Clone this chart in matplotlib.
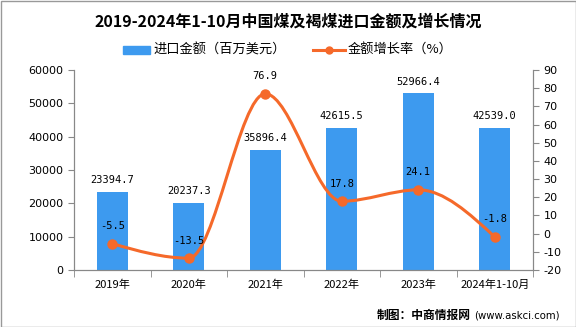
import matplotlib
matplotlib.use('Agg')
import matplotlib.pyplot as plt
from matplotlib.patches import Rectangle, PathPatch
from matplotlib.path import Path

plt.rcParams['font.family'] = ['Noto Sans CJK SC', 'DejaVu Sans']
plt.rcParams['axes.unicode_minus'] = False

# data
years = ['2019年', '2020年', '2021年', '2022年', '2023年', '2024年1-10月']
amount = [23394.7, 20237.3, 35896.4, 42615.5, 52966.4, 42539.0]
growth = [-5.5, -13.5, 76.9, 17.8, 24.1, -1.8]

bar_color = '#3d9aef'
line_color = '#f5692a'
W, H = 576, 327

fig = plt.figure(figsize=(5.76, 3.27), dpi=100)
ax = fig.add_axes([74 / W, 1 - 270 / H, 459 / W, 200 / H])
ax2 = ax.twinx()

x = list(range(len(years)))
ax.bar(x, amount, width=0.41, color=bar_color, zorder=2)
ax.set_xlim(-0.5, len(years) - 0.5)
ax.set_ylim(0, 60000)
ax.set_yticks(range(0, 60001, 10000))
ax.set_xticks(x)
ax.set_xticklabels(years, fontsize=8)
ax.set_xticks([i - 0.5 for i in range(len(years) + 1)], minor=True)

for xi, v in zip(x, amount):
    ax.annotate(f'{v:.1f}', (xi, v), xytext=(0, 5), textcoords='offset points',
                ha='center', va='bottom', fontsize=7.5, family='DejaVu Sans Mono')


# smooth line: monotone cubic tangents (flat at local peaks/dips), drawn as bezier path
def sign(v):
    return (v > 0) - (v < 0)


n = len(growth)
slopes = [(growth[i + 1] - growth[i]) / (x[i + 1] - x[i]) for i in range(n - 1)]
tang = [0.0] * n
for i in range(1, n - 1):
    s0, s1 = slopes[i - 1], slopes[i]
    p = (s0 + s1) / 2
    tang[i] = (sign(s0) + sign(s1)) * min(abs(s0), abs(s1), 0.5 * abs(p))
tang[0] = (3 * slopes[0] - tang[1]) / 2
tang[-1] = (3 * slopes[-1] - tang[-2]) / 2

verts = [(x[0], growth[0])]
codes = [Path.MOVETO]
for i in range(n - 1):
    dx = (x[i + 1] - x[i]) / 3
    verts += [(x[i] + dx, growth[i] + dx * tang[i]),
              (x[i + 1] - dx, growth[i + 1] - dx * tang[i + 1]),
              (x[i + 1], growth[i + 1])]
    codes += [Path.CURVE4] * 3
ax2.add_patch(PathPatch(Path(verts, codes), fill=False, edgecolor=line_color, lw=2.2, zorder=3))
ax2.plot(x, growth, ls='none', color=line_color, marker='o', ms=6.5, zorder=4)
ax2.set_ylim(-20, 90)
ax2.set_yticks(range(-20, 91, 10))
for xi, v in zip(x, growth):
    ax2.annotate(f'{v:.1f}', (xi, v), xytext=(0, 9), textcoords='offset points',
                 ha='center', va='bottom', fontsize=7.5, family='DejaVu Sans Mono')

for a in (ax, ax2):
    a.spines['top'].set_visible(False)
    for s in ('left', 'right', 'bottom'):
        a.spines[s].set_color('#888888')
    a.tick_params(colors='#888888', labelcolor='black', labelsize=8)
ax.tick_params(axis='x', which='major', length=0, pad=7, labelsize=8)
ax.tick_params(axis='x', which='minor', length=5, direction='out', color='#888888')
ax.tick_params(axis='y', direction='out', length=4)
ax2.tick_params(axis='y', direction='out', length=4)
for lbl in ax.get_yticklabels() + ax2.get_yticklabels():
    lbl.set_family('DejaVu Sans')

# title
fig.text(0.5, 1 - 22 / H, '2019-2024年1-10月中国煤及褐煤进口金额及增长情况',
         ha='center', va='center', fontsize=11.5, fontweight='bold')

# legend
fig.patches.append(Rectangle((123 / W, 1 - 54 / H), 27 / W, 8 / H,
                             transform=fig.transFigure, color=bar_color))
fig.text(153 / W, 1 - 50 / H, '进口金额（百万美元）', va='center', fontsize=9.5)
fig.lines.append(plt.Line2D([313 / W, 345 / W], [1 - 50 / H] * 2,
                            transform=fig.transFigure, color=line_color, lw=2.2))
fig.lines.append(plt.Line2D([329 / W], [1 - 50 / H], transform=fig.transFigure,
                            color=line_color, marker='o', ms=5))
fig.text(348 / W, 1 - 50 / H, '金额增长率（%）', va='center', fontsize=9.5)

# footer
fig.text(377 / W, 1 - 315 / H, '制图：中商情报网', va='center', fontsize=8.5, fontweight='bold')
fig.text(474 / W, 1 - 315 / H, '(www.askci.com)', va='center', fontsize=7.3, family='DejaVu Sans')

# frame
fig.patches.append(Rectangle((0.5 / W, 0.5 / H), 575 / W, 326 / H, transform=fig.transFigure,
                             fill=False, edgecolor='#999999', lw=1))

fig.savefig('out.png', dpi=100)
